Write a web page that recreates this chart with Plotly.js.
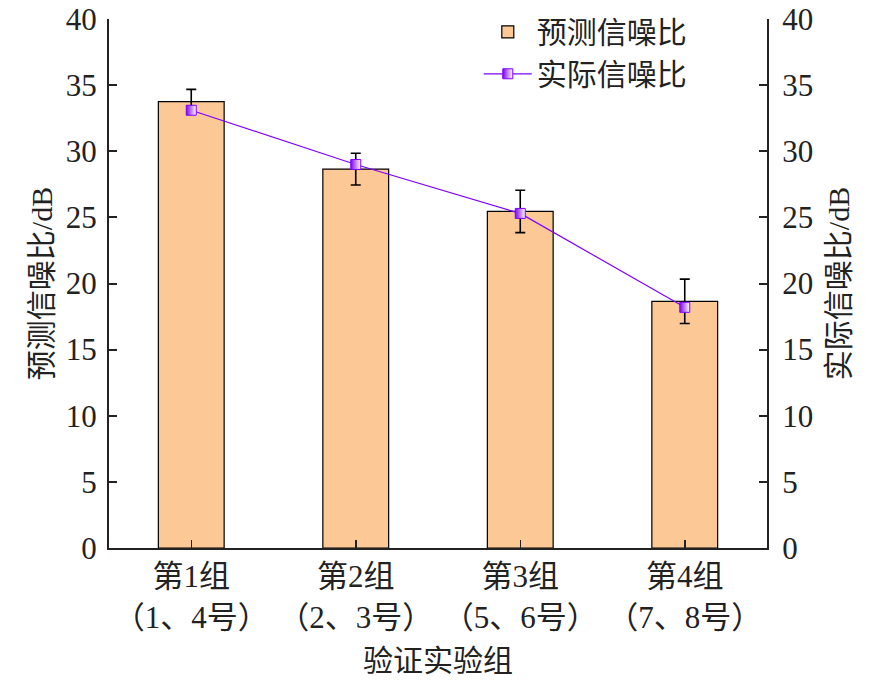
<!DOCTYPE html>
<html>
<head>
<meta charset="utf-8">
<script src="https://cdn.plot.ly/plotly-3.0.1.min.js"></script>
<style>html,body{margin:0;padding:0;background:#fff;}#chart{width:886px;height:685px;}</style>
</head>
<body>
<div id="chart"></div>
<script>
const categories = ["第1组<br>（1、4号）", "第2组<br>（2、3号）", "第3组<br>（5、6号）", "第4组<br>（7、8号）"];
const predicted = [33.75, 28.65, 25.45, 18.65];
const predictedErr = [0.93, 1.2, 1.6, 1.68];
const actual = [33.1, 29.0, 25.3, 18.2];
const yTicks = [0, 5, 10, 15, 20, 25, 30, 35, 40];

const fontFam = "'Liberation Serif', 'Times New Roman', 'Noto Sans CJK SC', serif";

const traces = [
  {
    type: 'bar',
    name: '预测信噪比',
    x: categories,
    y: predicted,
    marker: {color: '#FCC896', line: {color: '#000', width: 1.2}},
    error_y: {type: 'data', array: predictedErr, visible: true, color: '#000', thickness: 1.6, width: 5},
    yaxis: 'y'
  },
  {
    type: 'scatter',
    mode: 'lines+markers',
    name: '实际信噪比',
    x: categories,
    y: actual,
    line: {color: '#8000FF', width: 1.2},
    marker: {symbol: 'square', size: 10, color: '#8000FF', line: {color: '#8000FF', width: 1},
             gradient: {type: 'horizontal', color: '#ffffff'}},
    yaxis: 'y2'
  }
];

const yCommon = {
  range: [0, 40],
  tickvals: yTicks,
  ticktext: yTicks.map(String),
  ticks: 'inside',
  ticklen: 8,
  tickwidth: 2,
  tickcolor: '#222',
  showline: true,
  linecolor: '#222',
  linewidth: 2,
  showgrid: false,
  zeroline: false,
  tickfont: {family: fontFam, size: 31, color: '#222'},
  fixedrange: true
};

const layout = {
  width: 886,
  height: 685,
  margin: {l: 109, r: 119, t: 19, b: 137, autoexpand: false},
  paper_bgcolor: '#fff',
  plot_bgcolor: '#fff',
  font: {family: fontFam, size: 30, color: '#222'},
  bargap: 0.6,
  showlegend: true,
  legend: {
    x: 0.562, y: 1.025, xanchor: 'left', yanchor: 'top',
    bgcolor: 'rgba(0,0,0,0)',
    font: {family: fontFam, size: 30, color: '#222'},
    tracegroupgap: 0,
    itemwidth: 48
  },
  xaxis: {
    type: 'category',
    range: [-0.5, 3.5],
    ticks: 'inside',
    ticklen: 8,
    tickwidth: 1.5,
    tickcolor: '#222',
    showline: true,
    linecolor: '#222',
    linewidth: 2,
    showgrid: false,
    automargin: false,
    tickfont: {family: fontFam, size: 31, color: '#222'},
    title: {text: '验证实验组', font: {family: fontFam, size: 30, color: '#222'}, standoff: 16}
  },
  yaxis: Object.assign({}, yCommon, {
    side: 'left',
    automargin: false,
    ticklabelstandoff: 4,
    title: {text: '预测信噪比/dB', font: {family: fontFam, size: 30, color: '#222'}, standoff: 4}
  }),
  yaxis2: Object.assign({}, yCommon, {
    side: 'right',
    overlaying: 'y',
    automargin: false,
    ticklabelstandoff: 7,
    title: {text: '实际信噪比/dB', font: {family: fontFam, size: 30, color: '#222'}, standoff: 16}
  })
};

Plotly.newPlot('chart', traces, layout, {displayModeBar: false, staticPlot: true});
</script>
</body>
</html>
